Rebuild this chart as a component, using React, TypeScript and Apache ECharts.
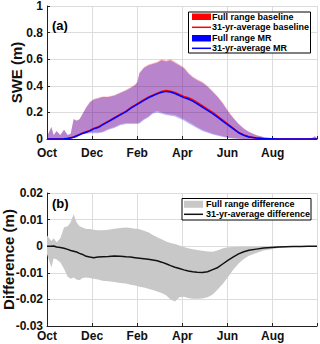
import React, { useEffect, useRef } from 'react';
import * as echarts from 'echarts';

// Day of water year (0 = 1 Oct)
const days = [0, 6, 9, 13, 18, 23, 28, 32, 36, 40, 44, 48, 53, 58, 63, 69, 75, 83, 91, 99, 107, 113, 119, 122, 125, 131, 137, 143, 149, 155, 161, 167, 173, 179, 185, 191, 197, 203, 210, 217, 224, 231, 238, 245, 252, 259, 266, 273, 283, 293, 303, 313, 323, 333, 343, 353, 359, 362, 365];

// Panel (a): SWE (m)
const baseUpper = [0.02, 0.09, 0.03, 0.06, 0.03, 0.07, 0.03, 0.04, 0.15, 0.14, 0.15, 0.19, 0.24, 0.28, 0.30, 0.31, 0.32, 0.32, 0.33, 0.35, 0.37, 0.39, 0.41, 0.43, 0.50, 0.54, 0.56, 0.57, 0.58, 0.60, 0.59, 0.60, 0.58, 0.56, 0.54, 0.50, 0.47, 0.45, 0.43, 0.40, 0.36, 0.32, 0.27, 0.21, 0.16, 0.115, 0.08, 0.055, 0.03, 0.015, 0.008, 0.005, 0.003, 0.002, 0.002, 0.003, 0.01, 0.02, 0.005];
const baseLower = [0, 0, 0, 0, 0, 0, 0, 0.005, 0.01, 0.015, 0.03, 0.04, 0.045, 0.05, 0.05, 0.05, 0.055, 0.075, 0.09, 0.11, 0.12, 0.12, 0.12, 0.12, 0.125, 0.15, 0.17, 0.20, 0.21, 0.20, 0.19, 0.185, 0.18, 0.165, 0.15, 0.13, 0.11, 0.09, 0.07, 0.055, 0.04, 0.03, 0.02, 0.012, 0.006, 0.002, 0, 0, 0, 0, 0, 0, 0, 0, 0, 0, 0, 0, 0];
const baseMean = [0, 0, 0, 0, 0, 0.002, 0.005, 0.01, 0.015, 0.025, 0.035, 0.045, 0.055, 0.065, 0.08, 0.09, 0.11, 0.135, 0.16, 0.185, 0.21, 0.235, 0.255, 0.265, 0.275, 0.295, 0.315, 0.33, 0.345, 0.358, 0.365, 0.36, 0.35, 0.335, 0.32, 0.31, 0.295, 0.275, 0.25, 0.225, 0.2, 0.17, 0.14, 0.11, 0.08, 0.05, 0.03, 0.017, 0.008, 0.003, 0.001, 0, 0, 0, 0, 0, 0, 0, 0];
const mrUpper = [0.02, 0.09, 0.03, 0.06, 0.03, 0.07, 0.03, 0.04, 0.148, 0.138, 0.147, 0.186, 0.235, 0.275, 0.295, 0.305, 0.315, 0.315, 0.325, 0.345, 0.364, 0.384, 0.404, 0.424, 0.493, 0.533, 0.553, 0.563, 0.573, 0.592, 0.582, 0.592, 0.572, 0.552, 0.532, 0.492, 0.462, 0.442, 0.422, 0.392, 0.353, 0.313, 0.264, 0.205, 0.156, 0.112, 0.078, 0.053, 0.029, 0.014, 0.008, 0.005, 0.003, 0.002, 0.002, 0.003, 0.01, 0.02, 0.005];
const mrLower = [0, 0, 0, 0, 0, 0, 0, 0.004, 0.008, 0.012, 0.026, 0.035, 0.04, 0.044, 0.044, 0.044, 0.049, 0.069, 0.083, 0.103, 0.113, 0.113, 0.112, 0.112, 0.117, 0.142, 0.161, 0.19, 0.2, 0.19, 0.18, 0.175, 0.169, 0.154, 0.139, 0.119, 0.099, 0.08, 0.061, 0.047, 0.033, 0.024, 0.015, 0.008, 0.003, 0.001, 0, 0, 0, 0, 0, 0, 0, 0, 0, 0, 0, 0, 0];
const mrMean = [0, 0, 0, 0, 0, 0.001, 0.004, 0.008, 0.013, 0.023, 0.032, 0.042, 0.051, 0.061, 0.076, 0.086, 0.106, 0.131, 0.156, 0.181, 0.206, 0.231, 0.251, 0.261, 0.27, 0.29, 0.31, 0.325, 0.339, 0.352, 0.358, 0.353, 0.342, 0.327, 0.311, 0.301, 0.285, 0.265, 0.24, 0.215, 0.191, 0.162, 0.133, 0.105, 0.076, 0.047, 0.028, 0.015, 0.007, 0.002, 0.001, 0, 0, 0, 0, 0, 0, 0, 0];

// Panel (b): Difference (m)
const diffUpper = [0.004, 0.002, 0.003, 0.0015, 0.003, 0.007, 0.0075, 0.009, 0.012, 0.009, 0.0075, 0.007, 0.0065, 0.0065, 0.0062, 0.006, 0.006, 0.0062, 0.0066, 0.0068, 0.007, 0.0068, 0.0066, 0.0066, 0.0064, 0.0058, 0.0052, 0.0042, 0.0034, 0.0026, 0.0018, 0.0012, 0.0008, 0.0003, -0.0003, -0.0008, -0.0011, -0.0014, -0.0017, -0.002, -0.0021, -0.0015, -0.0008, -0.0004, -0.0003, -0.0002, -0.0002, -0.0001, -0.0001, 0, 0, 0, 0, 0, 0, 0, 0, 0, 0];
const diffLower = [-0.003, -0.008, -0.0045, -0.005, -0.006, -0.0085, -0.0115, -0.0122, -0.0118, -0.0125, -0.0128, -0.012, -0.0118, -0.012, -0.0122, -0.0125, -0.013, -0.0132, -0.0135, -0.0138, -0.014, -0.0145, -0.0148, -0.015, -0.0152, -0.0155, -0.016, -0.0165, -0.017, -0.0176, -0.0184, -0.02, -0.0208, -0.0192, -0.019, -0.0195, -0.0198, -0.0198, -0.0197, -0.0192, -0.0182, -0.0162, -0.014, -0.0115, -0.0088, -0.0065, -0.0048, -0.0036, -0.0026, -0.0016, -0.0011, -0.0007, -0.0004, -0.0002, -0.0001, 0, 0, 0, 0];
const diffMean = [0, 0, 0.0001, -0.0003, -0.0005, -0.0008, -0.0012, -0.0016, -0.0019, -0.0022, -0.0027, -0.0031, -0.0038, -0.0041, -0.0043, -0.0041, -0.004, -0.0039, -0.0037, -0.0038, -0.004, -0.0041, -0.0043, -0.0044, -0.0045, -0.0047, -0.0049, -0.0052, -0.0055, -0.006, -0.0066, -0.0073, -0.0079, -0.0084, -0.0089, -0.0093, -0.0096, -0.0098, -0.0099, -0.0096, -0.0088, -0.008, -0.0066, -0.0052, -0.004, -0.0029, -0.0021, -0.0015, -0.0011, -0.0007, -0.0005, -0.0003, -0.0002, -0.0001, -0.0001, 0, 0, 0, 0];

// Axis ticks
const monthTickDays = [0, 61, 122, 183, 244, 305];
const monthLabels = ['Oct', 'Dec', 'Feb', 'Apr', 'Jun', 'Aug'];

const legendA = ['Full range baseline', '31-yr-average baseline', 'Full range MR', '31-yr-average MR'];
const legendB = ['Full range difference', '31-yr-average difference'];

const FONT = "'Liberation Sans', Arial, Helvetica, sans-serif";

function band(idx: number, lo: number[], hi: number[], color: string, z: number) {
  return {
    type: 'custom',
    xAxisIndex: idx,
    yAxisIndex: idx,
    silent: true,
    z,
    data: days.map((d, i) => [d, lo[i], hi[i]]),
    encode: { x: 0, y: [1, 2] },
    renderItem: (params: any, api: any) => {
      if (params.dataIndex !== 0) return null;
      const top = days.map((d, i) => api.coord([d, hi[i]]));
      const bot = days.map((d, i) => api.coord([d, lo[i]])).reverse();
      return {
        type: 'polygon',
        shape: { points: top.concat(bot) },
        style: { fill: color, stroke: 'none' },
      };
    },
  };
}

function line(idx: number, vals: number[], color: string, width: number, z: number) {
  return {
    type: 'line',
    xAxisIndex: idx,
    yAxisIndex: idx,
    data: days.map((d, i) => [d, vals[i]]),
    showSymbol: false,
    symbol: 'none',
    silent: true,
    z,
    lineStyle: { color, width },
  };
}

function xAxis(gi: number, margin: number) {
  return {
    type: 'value',
    gridIndex: gi,
    min: 0,
    max: 365,
    interval: 61,
    axisLine: { show: true, onZero: false, lineStyle: { color: '#222', width: 1 } },
    axisTick: { show: true, inside: true, length: 3, lineStyle: { color: '#222' } },
    axisLabel: {
      margin,
      color: '#111',
      fontSize: 12,
      lineHeight: 12,
      fontWeight: 'bold',
      fontFamily: FONT,
      formatter: (v: number) => {
        const k = monthTickDays.indexOf(Math.round(v));
        return k >= 0 ? monthLabels[k] : '';
      },
    },
    splitLine: { show: true, lineStyle: { color: '#dcdcdc', width: 1 } },
  };
}

function yAxis(gi: number, min: number, max: number, interval: number, name: string, nameGap: number) {
  return {
    type: 'value',
    gridIndex: gi,
    min,
    max,
    interval,
    name,
    nameLocation: 'middle',
    nameGap,
    nameMoveOverlap: false,
    nameTextStyle: { fontSize: 15, fontWeight: 'bold', color: '#111', fontFamily: FONT },
    axisLine: { show: true, lineStyle: { color: '#222', width: 1 } },
    axisTick: { show: true, inside: true, length: 3, lineStyle: { color: '#222' } },
    axisLabel: { margin: 4, color: '#111', fontSize: 12, lineHeight: 10, fontWeight: 'bold', fontFamily: FONT },
    splitLine: { show: true, lineStyle: { color: '#dcdcdc', width: 1 } },
  };
}

function txt(x: number, y: number, text: string, size: number) {
  return {
    type: 'text',
    x,
    y,
    z: 102,
    style: { text, fontSize: size, fontWeight: 'bold', fill: '#000', fontFamily: FONT, verticalAlign: 'middle', align: 'left' },
  };
}

export default function App() {
  const ref = useRef<HTMLDivElement>(null);
  useEffect(() => {
    if (!ref.current) return;
    const chart = echarts.init(ref.current, null, { renderer: 'svg' });
    const rowsA = [16.7, 27.3, 38.3, 48.3];
    const rowsB = [204.3, 214.3];
    chart.setOption({
      animation: false,
      backgroundColor: '#fff',
      textStyle: { fontFamily: FONT },
      grid: [
        { left: 47, right: 3, top: 6, height: 133, outerBoundsMode: 'none' },
        { left: 47, right: 3, top: 193, height: 133, outerBoundsMode: 'none' },
      ],
      xAxis: [xAxis(0, 8), xAxis(1, 4)],
      yAxis: [
        yAxis(0, 0, 1, 0.2, 'SWE (m)', 23),
        yAxis(1, -0.03, 0.02, 0.01, 'Difference (m)', 31),
      ],
      series: [
        band(0, baseLower, baseUpper, 'rgba(255,0,0,0.28)', 1),
        band(0, mrLower, mrUpper, 'rgba(0,0,255,0.28)', 2),
        line(0, baseMean, '#ff0000', 1.5, 3),
        line(0, mrMean, '#0000ff', 1.5, 4),
        band(1, diffLower, diffUpper, '#c8c8c8', 1),
        line(1, diffMean, '#111111', 1.5, 3),
      ],
      graphic: [
        txt(52, 25, '(a)', 13),
        txt(52, 203.5, '(b)', 13),
        { type: 'rect', z: 100, shape: { x: 188.5, y: 12, width: 122, height: 41 }, style: { fill: '#fff', stroke: '#000', lineWidth: 1 } },
        { type: 'rect', z: 101, shape: { x: 192, y: 13.5, width: 19, height: 6.5 }, style: { fill: '#ff0000' } },
        { type: 'line', z: 101, shape: { x1: 192, y1: rowsA[1], x2: 211, y2: rowsA[1] }, style: { stroke: '#ff0000', lineWidth: 1.5 } },
        { type: 'rect', z: 101, shape: { x: 192, y: 35, width: 19, height: 6.5 }, style: { fill: '#0000ff' } },
        { type: 'line', z: 101, shape: { x1: 192, y1: rowsA[3], x2: 211, y2: rowsA[3] }, style: { stroke: '#0000ff', lineWidth: 1.5 } },
        ...legendA.map((t, i) => txt(212, rowsA[i], t, 9)),
        { type: 'rect', z: 100, shape: { x: 182, y: 198.5, width: 129, height: 21.5 }, style: { fill: '#fff', stroke: '#000', lineWidth: 1 } },
        { type: 'rect', z: 101, shape: { x: 184, y: 200.8, width: 19, height: 7 }, style: { fill: '#c8c8c8' } },
        { type: 'line', z: 101, shape: { x1: 184, y1: rowsB[1], x2: 203, y2: rowsB[1] }, style: { stroke: '#111', lineWidth: 1.5 } },
        ...legendB.map((t, i) => txt(206, rowsB[i], t, 9)),
      ],
    });
    return () => chart.dispose();
  }, []);
  return <div ref={ref} style={{ position: 'fixed', left: 0, top: 0, width: 320, height: 344 }} />;
}
